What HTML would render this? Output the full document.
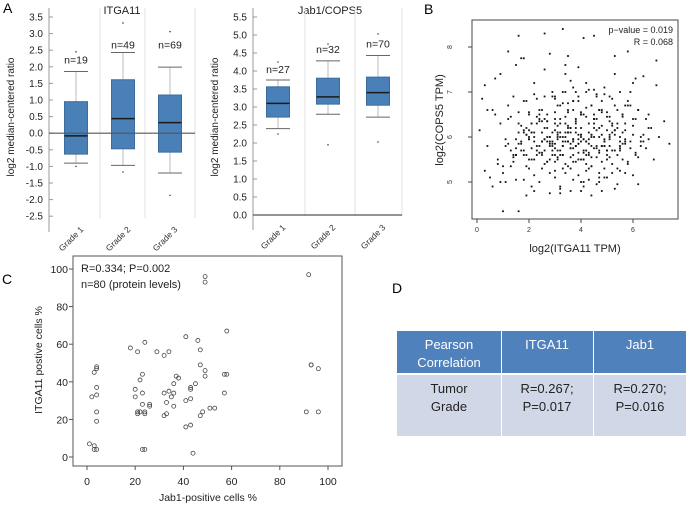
<!DOCTYPE html>
<html><head><meta charset="utf-8"><style>
body{margin:0;background:#fff;font-family:"Liberation Sans",sans-serif}
svg text{font-family:"Liberation Sans",sans-serif}
</style></head><body>
<svg id="fig" width="686" height="505" viewBox="0 0 686 505" xmlns="http://www.w3.org/2000/svg">
<text x="3" y="13" font-size="14">A</text>
<text x="424" y="14" font-size="14">B</text>
<text x="2" y="284" font-size="14">C</text>
<text x="392" y="293" font-size="14">D</text>
<g id="pa1"></g>
<g id="pa2"></g>
<g id="pb"></g>
<g id="pc"></g>
<g>
<rect x="397" y="331" width="104" height="42" fill="#4f81bd"/>
<rect x="502" y="331" width="91" height="42" fill="#4f81bd"/>
<rect x="594" y="331" width="92" height="42" fill="#4f81bd"/>
<rect x="397" y="375" width="104" height="61" fill="#d0d8e8"/>
<rect x="502" y="375" width="91" height="61" fill="#d0d8e8"/>
<rect x="594" y="375" width="92" height="61" fill="#d0d8e8"/>
<g font-size="13" text-anchor="middle" fill="#fff">
<text x="449" y="349">Pearson</text><text x="449" y="367">Correlation</text>
<text x="547" y="349">ITGA11</text><text x="640" y="349">Jab1</text></g>
<g font-size="13" text-anchor="middle" fill="#222">
<text x="449" y="393">Tumor</text><text x="449" y="411">Grade</text>
<text x="547" y="393">R=0.267;</text><text x="547" y="411">P=0.017</text>
<text x="640" y="393">R=0.270;</text><text x="640" y="411">P=0.016</text></g>
</g>
</svg>
<script>
const NS="http://www.w3.org/2000/svg";
function mk(p,t,a){const e=document.createElementNS(NS,t);for(const k in a)e.setAttribute(k,a[k]);p.appendChild(e);return e;}
// ---- Panel A data
const gradeCats=["Grade 1","Grade 2","Grade 3"];
const itgaLo=[-0.9,-0.97,-1.2], itgaQ1=[-0.63,-0.47,-0.57], itgaMed=[-0.08,0.44,0.32], itgaQ3=[0.95,1.61,1.15], itgaHi=[1.86,2.43,1.99];
const itgaOutHi=[2.45,3.32,3.06], itgaOutLo=[-1.0,-1.17,-1.87], itgaN=["n=19","n=49","n=69"], itgaNy=[2.1,2.55,2.55];
const itgaTicks=[3.5,3.0,2.5,2.0,1.5,1.0,0.5,0.0,-0.5,-1.0,-1.5,-2.0,-2.5];
const jabLo=[2.4,2.8,2.72], jabQ1=[2.72,3.08,3.05], jabMed=[3.1,3.28,3.4], jabQ3=[3.56,3.8,3.83], jabHi=[3.75,4.28,4.43];
const jabOutHi=[4.25,4.75,5.03], jabOutLo=[2.25,1.95,2.03], jabN=["n=27","n=32","n=70"], jabNy=[3.95,4.5,4.65];
const jabTicks=[5.5,5.0,4.5,4.0,3.5,3.0,2.5,2.0,1.5,1.0,0.5,0.0];
function boxPlot(g,o){
  const y=v=>o.y0+(o.top-v)*o.k;
  mk(g,'text',{x:o.cx,y:14,'font-size':11,'text-anchor':'middle',fill:'#222'}).textContent=o.title;
  const t=mk(g,'text',{x:0,y:0,'font-size':10,'text-anchor':'middle',fill:'#222',transform:`translate(${o.ax-35},${o.y0+100}) rotate(-90)`});t.textContent="log2 median-centered ratio";
  o.gx.forEach(x=>mk(g,'line',{x1:x,x2:x,y1:8,y2:o.bottom,stroke:'#e2e2e2'}));
  mk(g,'line',{x1:o.ax,x2:o.ax,y1:8,y2:o.bottom+14,stroke:'#999'});
  o.ticks.forEach(v=>{mk(g,'line',{x1:o.ax,x2:o.ax+4,y1:y(v),y2:y(v),stroke:'#999'});
    const tx=mk(g,'text',{x:o.ax-6,y:y(v)+3.5,'font-size':10,'text-anchor':'end',fill:'#222'});tx.textContent=v.toFixed(1);});
  gradeCats.forEach((c,i)=>{const x=o.cx0+i*o.dx,w=23;
    mk(g,'line',{x1:x,x2:x,y1:y(o.hi[i]),y2:y(o.lo[i]),stroke:'#bbb'});
    mk(g,'line',{x1:x-12,x2:x+12,y1:y(o.hi[i]),y2:y(o.hi[i]),stroke:'#666'});
    mk(g,'line',{x1:x-12,x2:x+12,y1:y(o.lo[i]),y2:y(o.lo[i]),stroke:'#666'});
    const b=mk(g,'rect',{x:x-w/2,y:y(o.q3[i]),width:w,height:y(o.q1[i])-y(o.q3[i]),fill:'#4a80b8',stroke:'#3c6b9c'});
    
    
    mk(g,'line',{x1:x-w/2,x2:x+w/2,y1:y(o.med[i]),y2:y(o.med[i]),stroke:'#1a1a1a','stroke-width':1.5});
    mk(g,'circle',{cx:x,cy:y(o.oh[i]),r:0.8,fill:'#444'});mk(g,'circle',{cx:x,cy:y(o.ol[i]),r:0.8,fill:'#444'});
    mk(g,'text',{x:x,y:y(o.ny[i]),'font-size':10.5,'text-anchor':'middle',fill:'#222'}).textContent=o.n[i];
    mk(g,'text',{x:0,y:0,'font-size':8.5,'text-anchor':'end',fill:'#333',transform:`translate(${x+8},${o.bottom+12}) rotate(-45)`}).textContent=c;
  });
  if(o.zero) mk(g,'line',{x1:o.ax,x2:o.rx,y1:y(0),y2:y(0),stroke:'#555','stroke-width':1.2});
}
boxPlot(document.getElementById('pa1'),{title:"ITGA11",cx:122,ax:49,rx:195,y0:17,top:3.5,k:33.2,bottom:218,gx:[100,145,195],cx0:76,dx:47,
 lo:itgaLo,q1:itgaQ1,med:itgaMed,q3:itgaQ3,hi:itgaHi,oh:itgaOutHi,ol:itgaOutLo,n:itgaN,ny:itgaNy,ticks:itgaTicks,zero:true});
boxPlot(document.getElementById('pa2'),{title:"Jab1/COPS5",cx:330,ax:253,rx:402,y0:17,top:5.5,k:36,bottom:216,gx:[305,355,402],cx0:278,dx:50,
 lo:jabLo,q1:jabQ1,med:jabMed,q3:jabQ3,hi:jabHi,oh:jabOutHi,ol:jabOutLo,n:jabN,ny:jabNy,ticks:jabTicks,zero:true});
// ---- Panel B data
const bx=[1.0,1.6,1.9,3.6,4.0,4.0,1.1,2.1,2.8,3.2,4.9,5.7,1.7,1.8,0.3,0.7,1.5,2.6,3.4,3.9,5.3,6.1,6.9,0.2,0.6,0.9,1.2,1.4,1.8,2.2,2.5,2.9,3.1,3.3,3.7,4.2,4.5,4.8,5.1,5.5,5.8,6.2,6.5,0.1,0.4,0.8,1.3,1.6,2.0,2.4,2.7,3.0,3.5,3.8,4.1,4.4,4.7,5.0,5.2,5.6,6.0,6.3,6.7,7.0,7.4,0.5,1.0,1.5,1.9,2.3,2.6,2.9,3.2,3.4,3.6,3.9,4.2,4.5,4.8,5.1,5.4,5.7,6.0,6.4,0.3,0.9,1.4,1.7,2.1,2.4,2.8,3.0,3.3,3.5,3.7,4.0,4.3,4.6,4.9,5.2,5.5,5.9,6.2,6.6,0.6,1.1,1.6,2.0,2.2,2.5,2.7,3.1,3.3,3.6,3.8,4.1,4.3,4.6,5.0,5.3,5.6,6.1,6.8,0.8,1.2,1.7,2.0,2.4,2.6,2.9,3.2,3.4,3.7,3.9,4.2,4.4,4.7,5.0,5.4,5.8,6.3,0.4,1.0,1.5,1.8,2.3,2.6,2.8,3.1,3.4,3.6,3.8,4.1,4.4,4.7,4.9,5.3,5.7,6.1,6.5,7.2,1.3,1.9,2.2,2.5,2.8,3.0,3.3,3.5,3.7,4.0,4.2,4.5,4.8,5.1,5.5,6.0,0.7,1.4,2.1,2.7,3.0,3.2,3.5,3.8,4.0,4.3,4.6,5.2,5.9,6.6,1.1,1.8,2.4,2.9,3.3,3.6,3.9,4.4,4.8,5.4,6.2,1.5,2.3,3.0,3.4,3.7,4.1,4.6,5.0,5.7,2.0,2.7,3.2,3.5,3.9,4.3,4.9,5.6,6.4,2.5,3.1,3.6,4.2,4.7,1.2,2.2,3.8,5.3,0.9,1.6,2.6,3.3,4.1,4.5,5.8,6.9,2.8,3.5,4.0,1.9,3.0,4.4,5.1,2.1,3.7,
1.5,1.7,1.9,2.1,2.3,2.5,2.7,2.9,3.1,3.3,3.5,3.7,3.9,4.1,4.3,4.5,4.7,4.9,5.1,5.3,5.5,5.7,1.6,1.8,2.0,2.2,2.4,2.6,2.8,3.0,3.2,3.4,3.6,3.8,4.0,4.2,4.4,4.6,4.8,5.0,5.2,5.4,5.6,5.8,1.4,1.8,2.1,2.4,2.7,3.0,3.2,3.5,3.8,4.0,4.3,4.5,4.8,5.1,5.4,5.7,6.0,1.7,2.0,2.3,2.6,2.9,3.1,3.4,3.6,3.9,4.2,4.4,4.7,4.9,5.2,5.5,1.9,2.2,2.5,2.8,3.0,3.3,3.5,3.7,4.0,4.2,4.5,4.7,5.0,5.3,5.6,6.2,1.3,1.6,2.0,2.4,2.7,3.1,3.4,3.6,3.9,4.1,4.4,4.6,4.9,5.2,5.5,5.9,6.4,2.2,2.6,2.9,3.2,3.5,3.8,4.1,4.3,4.6,4.9,5.3,1.5,2.1,2.5,2.8,3.1,3.3,3.7,4.0,4.2,4.5,4.8,5.1,5.6,6.1,2.3,2.7,3.0,3.4,3.6,3.9,4.3,4.7,5.0,5.4,1.8,2.4,3.2,3.7,4.1,4.6,5.2,5.8,2.6,3.0,3.5,3.9,4.4,4.8,5.5,6.3,1.2,2.0,2.9,3.3,3.8,4.2,4.7,5.1,5.7,6.6,2.5,3.1,3.6,4.0,4.5,5.0,1.9,2.8,3.4,4.3,4.9,5.9,3.0,3.7,4.4,5.3,2.2,3.2,4.1,4.8,6.0];
const by=[4.35,4.35,4.7,4.8,4.8,5.0,5.0,4.9,4.75,4.85,5.1,5.2,7.75,7.75,7.15,7.3,7.6,7.5,7.6,7.55,7.4,7.3,7.15,6.85,6.6,6.3,6.7,6.9,6.8,6.95,6.6,6.9,6.7,7.0,7.1,7.2,7.05,6.8,6.9,7.0,6.7,6.6,6.4,6.15,5.8,5.5,5.7,6.1,5.3,6.5,6.0,6.3,6.6,6.4,6.5,6.7,6.2,6.45,6.3,6.1,6.25,6.0,6.2,6.0,5.85,5.1,5.35,5.6,6.2,5.8,5.4,5.9,5.7,6.1,5.85,5.65,5.9,5.75,6.05,5.95,6.3,5.85,6.05,5.9,5.25,5.0,5.45,5.9,6.1,5.65,5.85,6.15,5.8,5.9,5.6,6.0,5.95,6.4,5.8,5.7,5.9,5.75,5.55,5.95,4.9,5.8,6.3,5.5,6.0,5.9,6.2,5.55,6.0,5.75,6.3,5.5,6.1,5.8,5.6,6.15,5.85,5.65,5.5,5.4,6.4,5.7,5.95,6.35,5.7,5.6,6.1,5.9,5.45,6.05,5.9,5.8,6.0,5.7,5.3,5.4,5.8,6.6,5.2,5.05,6.15,5.7,6.4,5.9,5.5,6.45,5.75,6.1,5.95,5.55,5.2,5.9,6.15,5.9,5.6,5.75,6.35,5.35,6.8,5.5,5.6,6.0,5.85,5.6,6.2,5.95,6.55,5.4,6.3,5.8,6.0,5.7,5.15,6.5,5.6,6.3,6.5,5.1,6.7,6.1,6.2,5.9,5.3,6.9,6.25,6.7,6.5,5.95,6.1,6.6,7.0,6.75,6.2,5.5,6.05,5.8,6.6,4.95,5.95,6.85,6.55,7.4,6.8,5.5,6.95,5.7,6.7,6.55,5.45,6.4,5.35,6.9,5.6,7.1,6.45,7.35,6.35,6.1,7.25,7.0,6.6,7.9,7.2,7.0,7.8,7.4,8.25,8.3,8.4,8.2,8.25,7.9,7.7,7.85,7.8,6.05,6.05,5.6,6.0,6.05,6.1,5.95,5.75,5.85,5.6,6.3,5.6,5.9,
5.9,5.7,6.0,5.8,6.1,5.75,5.95,5.65,5.85,6.0,5.7,5.9,5.8,6.05,5.75,5.95,5.85,5.7,6.0,5.9,5.8,5.95,5.5,5.45,5.6,5.4,5.55,5.45,5.5,5.6,5.35,5.55,5.45,5.5,5.4,5.6,5.5,5.45,5.55,5.6,5.5,5.65,5.45,5.75,6.3,6.25,6.35,6.2,6.3,6.4,6.25,6.35,6.2,6.3,6.4,6.25,6.15,6.3,6.2,6.1,6.05,5.2,5.3,5.15,5.25,5.35,5.1,5.3,5.2,5.25,5.35,5.15,5.3,5.2,5.25,5.3,6.55,6.6,6.5,6.65,6.5,6.6,6.55,6.7,6.5,6.6,6.45,6.55,6.5,6.4,6.35,5.95,6.0,6.1,5.85,5.95,6.05,6.15,5.95,6.1,6.0,5.9,6.05,6.1,5.95,5.85,6.0,5.9,5.8,5.7,5.65,5.75,5.8,5.7,5.6,5.75,5.65,5.8,5.7,5.6,5.9,6.5,6.45,6.4,6.55,6.45,6.5,6.4,6.45,6.35,6.4,6.3,6.2,5.85,5.05,5.0,5.1,4.95,5.05,5.0,4.9,5.05,5.0,4.95,6.85,6.8,6.9,6.85,6.75,6.8,6.7,6.6,5.8,5.9,5.85,5.95,5.8,5.9,5.8,5.7,5.65,5.55,6.15,6.2,6.1,6.25,6.2,6.05,6.2,6.15,6.05,6.0,7.0,7.05,6.95,7.0,6.9,6.8,4.7,4.85,4.8,4.75,4.9,4.8,7.2,7.3,7.15,7.1,7.45,7.5,7.4,7.35,7.3];
const bXTicks=[0,2,4,6], bYTicks=[5,6,7,8];
(function(){const g=document.getElementById('pb');
 const X=v=>477+v*26, Y=v=>182-(v-5)*45;
 mk(g,'rect',{x:472,y:20,width:206,height:199,fill:'none',stroke:'#444'});
 for(let i=0;i<bx.length;i++){const c=mk(g,'rect',{x:X(bx[i])-0.9,y:Y(by[i])-0.9,width:1.8,height:1.8,fill:'#111'});
  
  }
 bXTicks.forEach(v=>{mk(g,'line',{x1:X(v),x2:X(v),y1:219,y2:223,stroke:'#444'});mk(g,'text',{x:X(v),y:232,'font-size':7,'text-anchor':'middle',fill:'#333'}).textContent=v;});
 bYTicks.forEach(v=>{mk(g,'line',{x1:468,x2:472,y1:Y(v),y2:Y(v),stroke:'#444'});mk(g,'text',{x:0,y:0,'font-size':7,'text-anchor':'middle',fill:'#333',transform:`translate(452,${Y(v)}) rotate(-90)`}).textContent=v;});
 mk(g,'text',{x:575,y:252,'font-size':11,'text-anchor':'middle',fill:'#222'}).textContent="log2(ITGA11 TPM)";
 mk(g,'text',{x:0,y:0,'font-size':11,'text-anchor':'middle',fill:'#222',transform:`translate(443,120) rotate(-90)`}).textContent="log2(COPS5 TPM)";
 mk(g,'text',{x:673,y:33,'font-size':9,'text-anchor':'end',fill:'#222'}).textContent="p\u2212value = 0.019";
 mk(g,'text',{x:673,y:45,'font-size':9,'text-anchor':'end',fill:'#222'}).textContent="R = 0.068";
})();
// ---- Panel C data
const cx=[1,3,3,4,2,4,4,3,4,4,4,4,18,21,24,29,32,34,20,20,22,23,23,21,21,22,23,24,24,26,26,23,24,32,32,33,33,34,35,36,36,36,37,38,41,41,41,43,43,43,43,44,45,46,47,47,47,48,49,49,51,53,57,58,57,58,91,93,93,96,96,92,49,49];
const cy=[7,6,4,4,32,33,37,45,47,48,24,19,58,56,61,56,54,56,36,32,41,44,34,24,23,24,28,24,23,28,27,4,4,34,22,23,29,35,32,34,39,27,43,42,64,30,16,17,31,36,37,2,39,62,57,49,22,24,46,43,26,26,44,44,34,67,24,49,49,47,24,97,93,96];
const cTicks=[0,20,40,60,80,100];
(function(){const g=document.getElementById('pc');
 const X=v=>87+v*2.41, Y=v=>457-v*1.88;
 mk(g,'rect',{x:73,y:256,width:269,height:210,fill:'none',stroke:'#555'});
 for(let i=0;i<cx.length;i++){const c=mk(g,'circle',{cx:X(cx[i]),cy:Y(cy[i]),r:2,fill:'none',stroke:'#444','stroke-width':0.8});
  
  }
 cTicks.forEach(v=>{mk(g,'line',{x1:X(v),x2:X(v),y1:466,y2:470,stroke:'#555'});mk(g,'text',{x:X(v),y:485,'font-size':10.5,'text-anchor':'middle',fill:'#222'}).textContent=v;
  mk(g,'line',{x1:69,x2:73,y1:Y(v),y2:Y(v),stroke:'#555'});mk(g,'text',{x:68,y:Y(v)+4,'font-size':10.5,'text-anchor':'end',fill:'#222'}).textContent=v;});
 mk(g,'text',{x:208,y:501,'font-size':10.5,'text-anchor':'middle',fill:'#222'}).textContent="Jab1-positive cells %";
 mk(g,'text',{x:0,y:0,'font-size':10.5,'text-anchor':'middle',fill:'#222',transform:`translate(42,360) rotate(-90)`}).textContent="ITGA11 postive cells %";
 mk(g,'text',{x:81,y:272,'font-size':11,fill:'#222'}).textContent="R=0.334; P=0.002";
 mk(g,'text',{x:81,y:288,'font-size':11,fill:'#222'}).textContent="n=80 (protein levels)";
})();
</script>
</body></html>
